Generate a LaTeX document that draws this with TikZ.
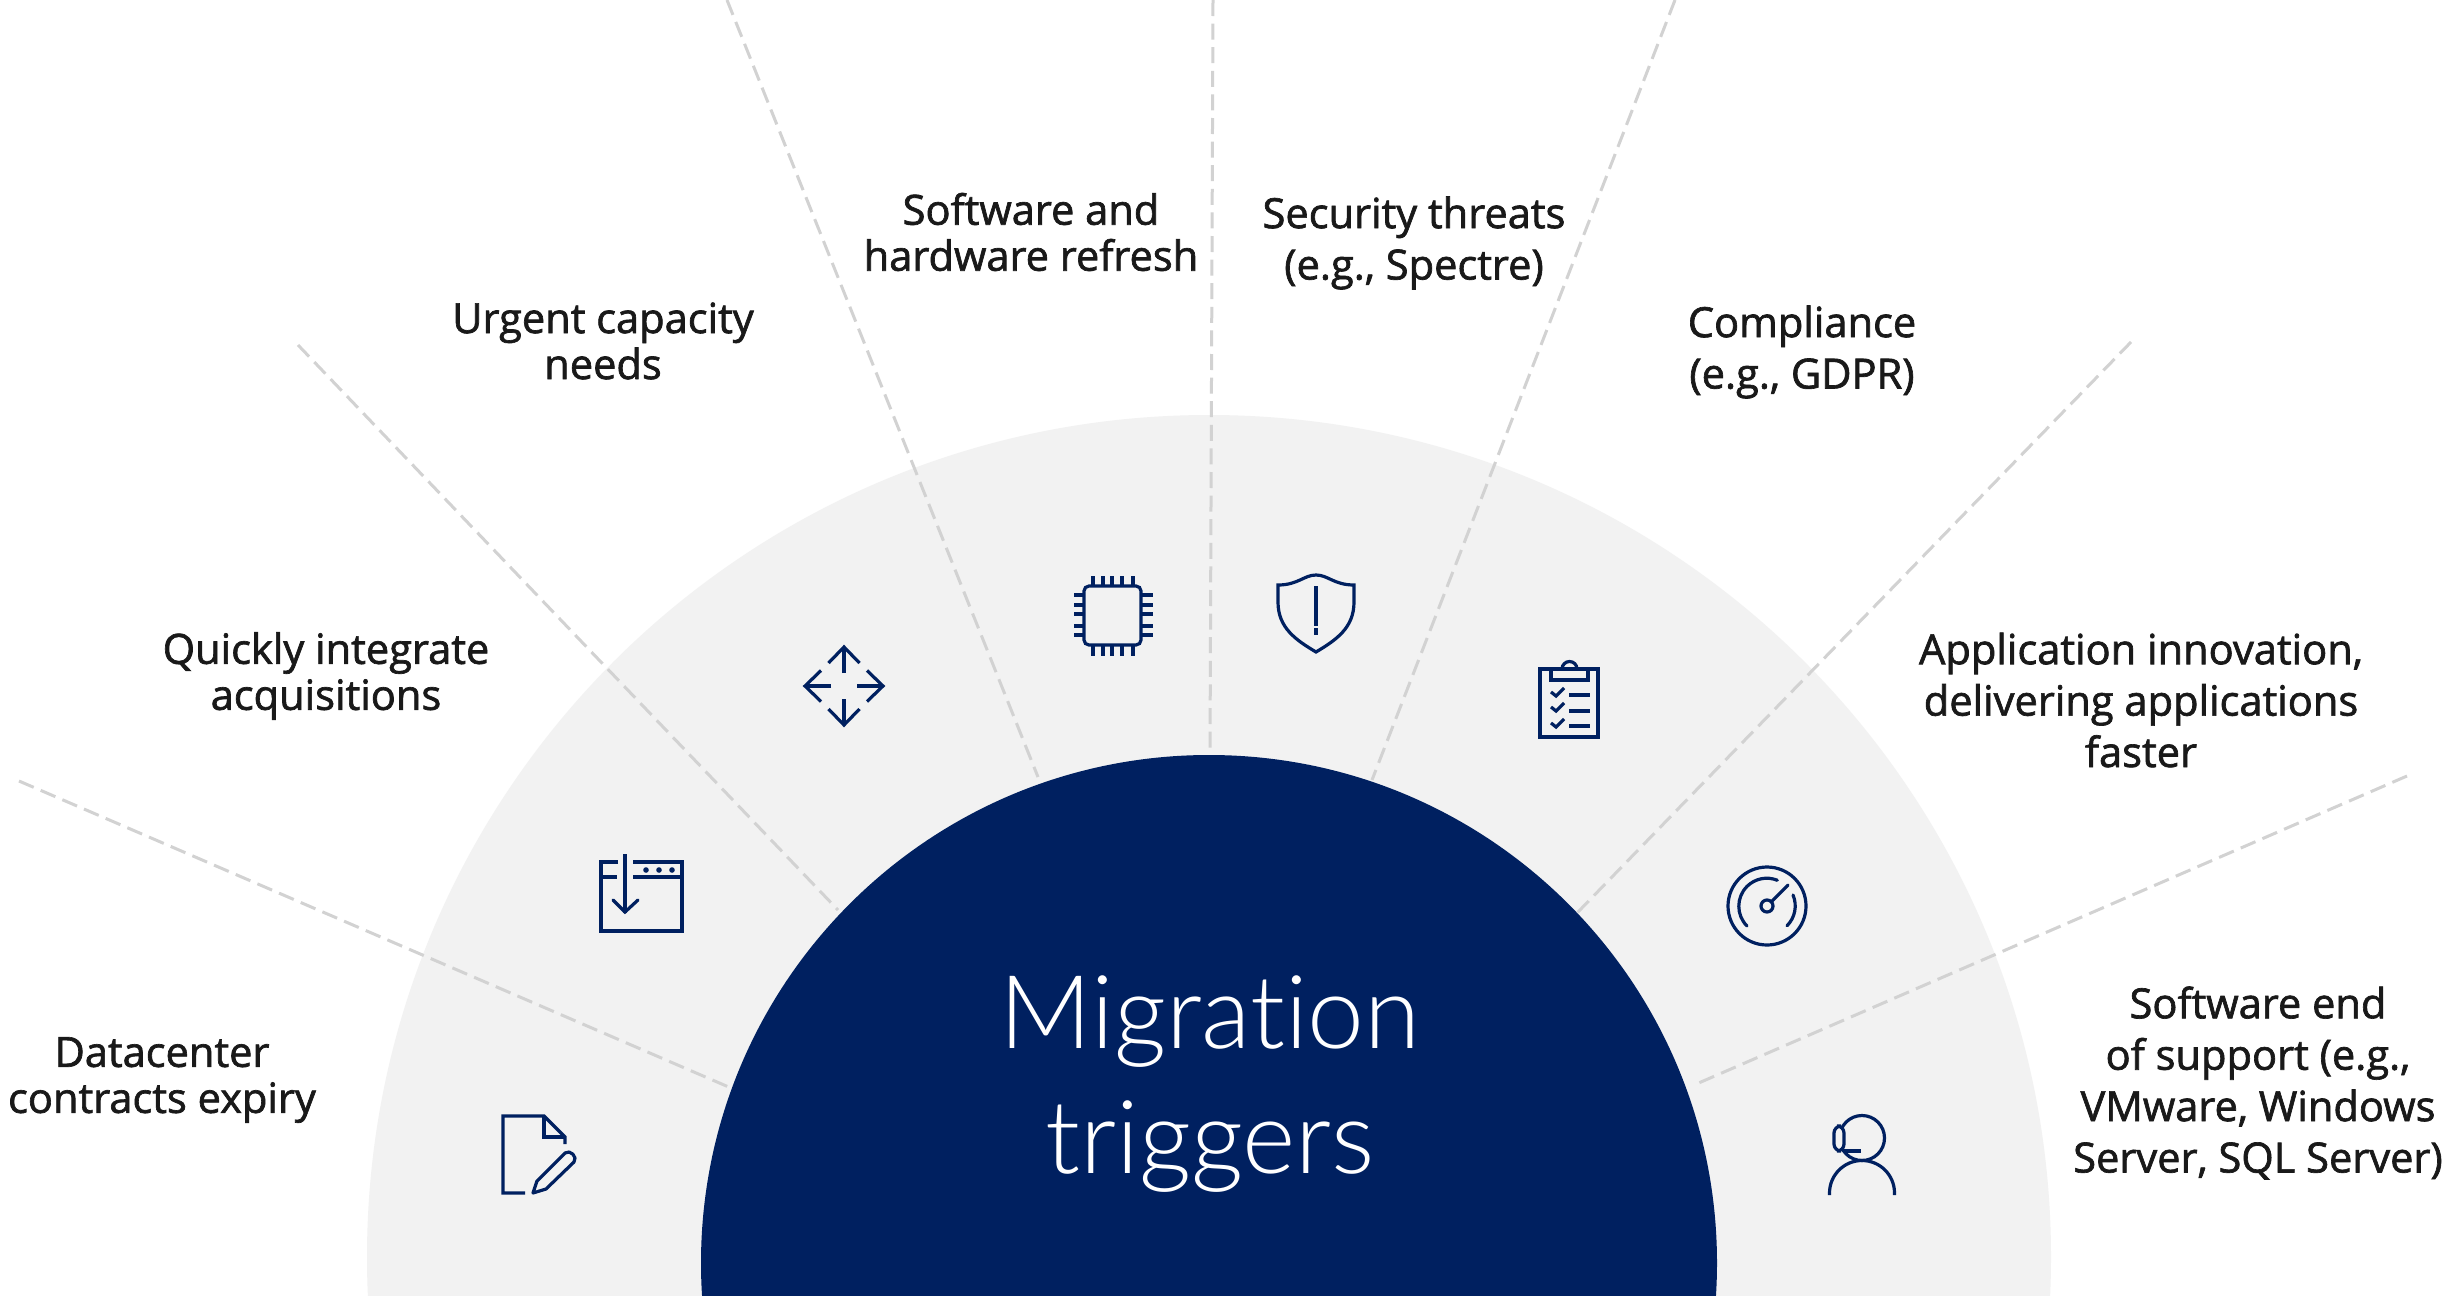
\documentclass[tikz,border=0pt]{standalone}
\usepackage{fontspec}
\setmainfont[RawFeature={embolden=1.6}]{Open Sans}
\newfontfamily\lightfont[Ligatures=NoCommon]{Lato Light}
\definecolor{navy}{HTML}{002060}
\definecolor{pale}{HTML}{F2F2F2}
\definecolor{raygray}{HTML}{D2D2D2}
\tikzset{
  x=0.5pt,y=-0.5pt,
  lbl/.style={align=center,inner sep=0,text=black!90,font=\fontsize{20.8}{23}\selectfont},
  lblb/.style={lbl,font=\fontsize{20.8}{25.7}\selectfont},
  ray/.style={raygray,line width=1.5pt,dash pattern=on 8pt off 3.8pt},
  ico/.style={navy,line width=1.6pt,line join=miter}
}
\begin{document}
\begin{tikzpicture}
\useasboundingbox (0,0) rectangle (2448,1296);
\fill[white] (0,0) rectangle (2448,1296);
\begin{scope}
\clip (0,0) rectangle (2448,1296);
\fill[pale] (1209,1257) circle[radius=842];
\coordinate (r1a) at (19,781);   \coordinate (r1b) at (731,1088);
\coordinate (r2a) at (298,345);  \coordinate (r2b) at (838,910);
\coordinate (r3a) at (727,0);    \coordinate (r3b) at (1038,777);
\coordinate (r4a) at (1213,0);   \coordinate (r4b) at (1210,756);
\coordinate (r5a) at (1675,0);   \coordinate (r5b) at (1372,780);
\coordinate (r6a) at (2131,342); \coordinate (r6b) at (1577,913);
\coordinate (r7a) at (2407,776); \coordinate (r7b) at (1694,1085);
\foreach \n in {1,...,7} {\draw[ray] (r\n a) -- (r\n b);}
\fill[navy] (1209,1263) circle[radius=508];
\end{scope}
\node[align=center,text=white,inner sep=0,font=\lightfont\fontsize{51}{62.5}\selectfont] (title) at (1210,1084) {Migration\\triggers};
% labels
\node[lbl] (l1) at (162,1080) {Datacenter\\contracts expiry};
\node[lbl] (l2) at (326,676) {Quickly integrate\\acquisitions};
\node[lbl] (l3) at (603,341) {Urgent capacity\\needs};
\node[lbl] (l4) at (1031,232) {Software and\\hardware refresh};
\node[lblb] (l5) at (1414,243) {Security threats\\(e.g., Spectre)};
\node[lblb] (l6) at (1802,352) {Compliance\\(e.g., GDPR)};
\node[lblb] (l7) at (2141,700) {Application innovation,\\delivering applications\\faster};
\node[lblb] (l8) at (2258,1083) {Software end\\of support (e.g.,\\VMware, Windows\\Server, SQL Server)};
% doc
\draw[ico] (525,1193) -- (503,1193) -- (503,1116) -- (544,1116) -- (565,1137) -- (565,1144);
\draw[ico] (544,1116) -- (544,1137) -- (565,1137);
\draw[ico,line join=round] (533,1193) -- (537,1181) -- (565,1153) .. controls (570,1149) and (578,1157) .. (574,1162) -- (546,1189) -- cycle;
% window
\draw[ico] (618,862) -- (601,862) -- (601,931) -- (682,931) -- (682,862) -- (633,862);
\draw[ico] (601,877) -- (617,877) (633,877) -- (682,877);
\foreach \x in {646,659,672} {\fill[navy] (\x,870) circle[radius=2.8];}
\draw[ico] (625,854) -- (625,913);
\draw[ico,line cap=round] (613,900) -- (625,912) -- (638,900);
% arrows
\begin{scope}[shift={(844,686)}]
\foreach \a in {0,90,180,270} {
\begin{scope}[rotate=\a]
\draw[ico] (0,-13) -- (0,-39);
\draw[ico] (-15.5,-23) -- (0,-39) -- (15.5,-23);
\end{scope}
}
\end{scope}
% chip
\draw[ico,rounded corners=2.5pt] (1084,586) rectangle (1141,645);
\foreach \x in {1093,1103,1112,1122,1133} {\draw[ico] (\x,576) -- (\x,586) (\x,645) -- (\x,656);}
\foreach \y in {595,605,614,626,635} {\draw[ico] (1074,\y) -- (1084,\y) (1141,\y) -- (1153,\y);}
% shield
\draw[ico] (1316,575) .. controls (1304,575) and (1298,585) .. (1278,585) -- (1278,602) .. controls (1278,628) and (1296,640) .. (1316,652) .. controls (1336,640) and (1354,628) .. (1354,602) -- (1354,585) .. controls (1334,585) and (1328,575) .. (1316,575) -- cycle;
\draw[ico] (1316,586) -- (1316,626) (1316,628) -- (1316,635);
% clipboard
\draw[ico] (1540,669) rectangle (1598,737);
\draw[ico] (1551,669) -- (1551,680) -- (1588,680) -- (1588,669);
\draw[ico] (1562,669) arc[start angle=180,end angle=360,radius=7.5];
\foreach \y/\z in {692/695,707/711,723/726} {
  \draw[ico] (1551,\y) -- (1556,\y+4) -- (1564,\y-4);
  \draw[ico] (1569,\z) -- (1590,\z);
}
% gauge
\draw[ico] (1767,906) circle[radius=39];
\draw[ico,line cap=round] (1747,926) arc[start angle=135,end angle=292,radius=28];
\draw[ico,line cap=round] (1793,895) arc[start angle=-23,end angle=45,radius=28];
\draw[ico] (1767,906) circle[radius=6];
\draw[ico,line cap=round] (1772,901) -- (1788,885);
% person
\draw[ico] (1862,1138) circle[radius=22.5];
\draw[ico] (1829.5,1195) -- (1829.5,1193) arc[start angle=180,end angle=360,radius=32.5] -- (1894.5,1195);
\draw[ico,fill=pale,rounded corners=3.5pt] (1844,1151) -- (1834,1151) -- (1834,1126) -- (1844,1126) -- cycle;
\draw[ico] (1843,1151) -- (1861,1151);
\end{tikzpicture}
\end{document}
